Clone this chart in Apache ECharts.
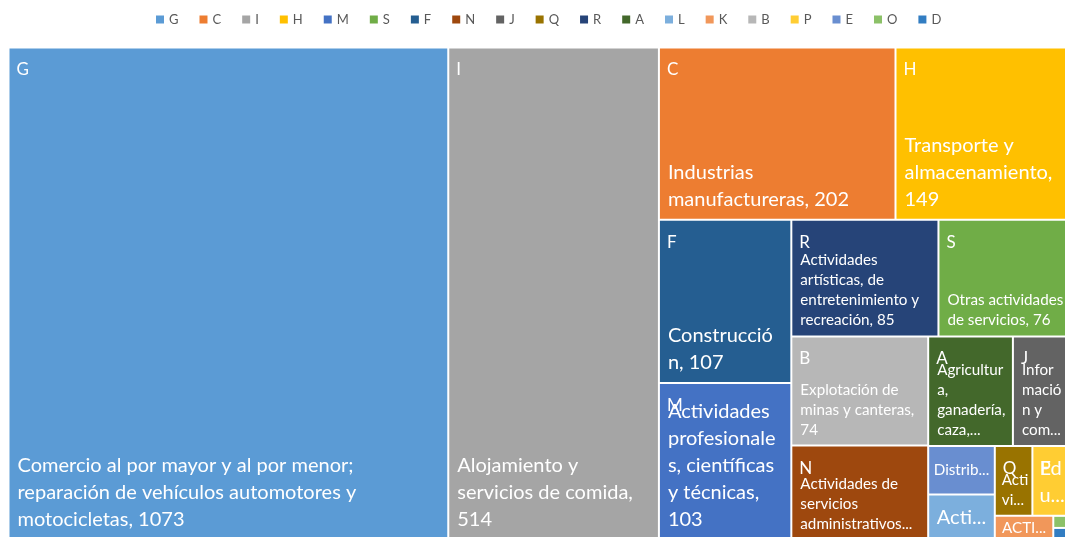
<!DOCTYPE html>
<html><head><meta charset="utf-8">
<script src="https://cdn.jsdelivr.net/npm/echarts@6/dist/echarts.min.js"></script>
<style>html,body{margin:0;padding:0;background:#fff}#c{width:1065px;height:537px}</style>
</head><body><div id="c"></div>
<script>
// ---- data (legend order) ----
const codes = ['G','C','I','H','M','S','F','N','J','Q','R','A','L','K','B','P','E','O','D'];
const sectors = [
  'Comercio al por mayor y al por menor; reparación de vehículos automotores y motocicletas',
  'Industrias manufactureras',
  'Alojamiento y servicios de comida',
  'Transporte y almacenamiento',
  'Actividades profesionales, científicas y técnicas',
  'Otras actividades de servicios',
  'Construcción',
  'Actividades de servicios administrativos y de apoyo',
  'Información y comunicaciones',
  'Actividades de atención de la salud humana y de asistencia social',
  'Actividades artísticas, de entretenimiento y recreación',
  'Agricultura, ganadería, caza, silvicultura y pesca',
  'Actividades inmobiliarias',
  'ACTIVIDADES FINANCIERAS Y DE SEGUROS',
  'Explotación de minas y canteras',
  'Educación',
  'Distribución de agua; evacuación y tratamiento de aguas residuales, gestión de desechos y actividades de saneamiento ambiental',
  'Administración pública y defensa; planes de seguridad social de afiliación obligatoria',
  'Suministro de electricidad, gas, vapor y aire acondicionado'
];
const counts = [1073, 202, 514, 149, 103, 76, 107, 64, 31, 13, 85, 46, 15, 7, 74, 13, 16, 1, 1];

// ---- styles ----
const palette = ['#5B9BD5','#ED7D31','#A5A5A5','#FFC000','#4472C4','#70AD47','#255E91','#9E480E','#636363','#997300',
                 '#264478','#43682B','#7CAFDD','#F1975A','#B7B7B7','#FFCD33','#698ED0','#8CC168','#327DC2'];
const bigFont = new Set(['G','I','C','H','F','M','L','P']);
const FONT = 'Lato';
const BIG = { size: 20, lh: 27, pad: [6, 6.5, 5.5, 8] };
const MID = { size: 15.2, lh: 20, pad: [8, 4, 5, 8] };

// order by size (largest first), ties keep legend order
const order = codes.map((c, i) => i).sort((a, b) => counts[b] - counts[a] || a - b);

const box = { left: 9.5, top: 48.5, width: 1059.5, height: 490.5 };
const common = Object.assign({
  type: 'treemap', sort: false, squareRatio: 0.947,
  roam: false, nodeClick: false, breadcrumb: { show: false },
  animation: false, visibleMin: 0
}, box);

const wrapped = {};
function makeBaseData(labelFor) {
  return order.map(i => ({
    name: codes[i], value: counts[i], desc: sectors[i],
    itemStyle: { color: palette[i] },
    label: labelFor ? labelFor(codes[i]) : {}
  }));
}
function makeLetterData(labelFor) {
  return order.map(i => ({
    name: codes[i], value: counts[i], itemStyle: { color: 'rgba(0,0,0,0)' },
    label: labelFor ? labelFor(codes[i]) : {}
  }));
}

const chart = echarts.init(document.getElementById('c'), null, { renderer: 'canvas' });
chart.setOption({
  animation: false,
  legend: {
    top: 8, left: 151, icon: 'rect', itemWidth: 8, itemHeight: 8, itemGap: 21,
    selectedMode: false, data: codes,
    textStyle: { color: '#595959', fontSize: 13, fontFamily: FONT }
  },
  series: [
    Object.assign({}, common, {
      name: 'base',
      itemStyle: { borderWidth: 0, gapWidth: 2, borderColor: '#fff' },
      label: {
        show: true, position: 'insideBottomLeft', distance: 0, align: 'left', verticalAlign: 'bottom',
        color: '#fff', fontFamily: FONT, overflow: 'none',
        formatter: p => wrapped[p.name] || ''
      },
      emphasis: { disabled: true },
      data: makeBaseData(null)
    }),
    Object.assign({}, common, {
      name: 'letters', silent: true,
      itemStyle: { borderWidth: 0, gapWidth: 2, borderColor: 'rgba(0,0,0,0)' },
      label: {
        show: true, position: 'insideTopLeft', distance: 0, align: 'left', verticalAlign: 'top',
        color: '#fff', fontFamily: FONT, fontSize: 17, padding: [13, 4, 0, 7],
        overflow: 'truncate', formatter: '{b}'
      },
      emphasis: { disabled: true },
      data: makeLetterData(null)
    }),
    {
      type: 'pie', radius: [0, 0], center: [-100, -100], silent: true,
      label: { show: false }, labelLine: { show: false },
      data: codes.map((c, i) => ({ name: c, value: counts[i], itemStyle: { color: palette[i] } }))
    }
  ]
});

// ---- wrap labels to the cell sizes computed by the treemap layout ----
const mctx = document.createElement('canvas').getContext('2d');
function measure(t, size) { mctx.font = size + 'px ' + FONT; return mctx.measureText(t).width; }
function wrap(text, size, maxW, maxLines) {
  const words = text.split(' ');
  const lines = [];
  let line = '';
  for (const w of words) {
    const cand = line ? line + ' ' + w : w;
    if (measure(cand, size) <= maxW) { line = cand; continue; }
    if (line) { lines.push(line); line = ''; }
    let rest = w;
    while (rest.length > 1 && measure(rest, size) > maxW) {
      let k = 1;
      while (k < rest.length && measure(rest.slice(0, k + 1), size) <= maxW) k++;
      lines.push(rest.slice(0, k));
      rest = rest.slice(k);
    }
    line = rest;
  }
  if (line) lines.push(line);
  if (lines.length > maxLines) {
    const kept = lines.slice(0, maxLines);
    let last = kept[maxLines - 1];
    while (last.length > 1 && measure(last.trimEnd() + '...', size) > maxW) last = last.slice(0, -1);
    kept[maxLines - 1] = last.trimEnd() + '...';
    return kept;
  }
  return lines;
}

const cellLayout = {};
try {
  const tree = chart.getModel().getSeriesByIndex(0).getData().tree;
  tree.root.children.forEach(n => { cellLayout[n.name] = n.getLayout(); });
} catch (e) {}

const labelStyle = {}, letterStyle = {};
order.forEach(i => {
  const code = codes[i];
  const st = bigFont.has(code) ? BIG : MID;
  const lay = cellLayout[code];
  const text = sectors[i] + ', ' + counts[i];
  if (!lay) { wrapped[code] = text; labelStyle[code] = { fontSize: st.size, lineHeight: st.lh, padding: st.pad, overflow: 'break' }; return; }
  if (lay.width < 20) {
    // slivers: no text
    letterStyle[code] = { show: false };
    labelStyle[code] = { show: false };
    return;
  }
  if (lay.height < 50) {
    // short cells: category letter hidden, data label centred on one line
    letterStyle[code] = { show: false };
    wrapped[code] = wrap(text, st.size, Math.max(4, lay.width - 6), 1).join('\n');
    labelStyle[code] = { fontSize: st.size, lineHeight: Math.min(st.lh, Math.max(1, lay.height)),
      padding: [0, 3, 0, 3], position: 'inside', align: 'center', verticalAlign: 'middle' };
    return;
  }
  const pad = st.pad.slice();
  if (lay.width < 45) { pad[1] = 0; pad[3] = 6; }
  const maxW = lay.width - pad[1] - pad[3];
  const avail = lay.height - pad[0] - pad[2];
  const maxLines = Math.max(1, Math.floor(avail / st.lh + 1e-6));
  wrapped[code] = wrap(text, st.size, Math.max(4, maxW), maxLines).join('\n');
  labelStyle[code] = { fontSize: st.size, lineHeight: st.lh, padding: pad };
});

chart.setOption({ series: [
  { data: makeBaseData(code => labelStyle[code]) },
  { data: makeLetterData(code => letterStyle[code] || {}) }
] });
</script>
</body></html>
